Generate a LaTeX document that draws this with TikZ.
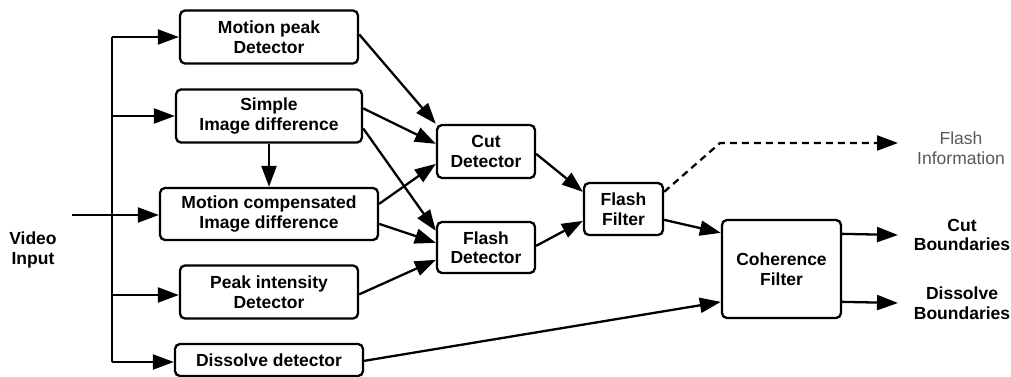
\documentclass[tikz,border=0pt]{standalone}
\usepackage{fontspec}
\setmainfont{Liberation Sans}
\usetikzlibrary{arrows.meta,calc}
\tikzset{
  blk/.style={draw, line width=2.3pt, rounded corners=5pt, align=center, inner sep=0pt,
    font=\bfseries\fontsize{17.5}{19.5}\selectfont},
  lbl/.style={align=center, inner sep=0pt, font=\bfseries\fontsize{17.5}{19.5}\selectfont},
  lblg/.style={align=center, inner sep=0pt, text=black!65, font=\fontsize{17.5}{19.5}\selectfont},
  conn/.style={line width=2.3pt, -{Triangle[length=21pt,width=15pt]}},
  wire/.style={line width=2.3pt},
  dconn/.style={line width=2.3pt, dash pattern=on 7pt off 5pt, -{Triangle[length=21pt,width=15pt]}}
}
\begin{document}
\begin{tikzpicture}[x=1pt,y=-1pt]
\useasboundingbox (0,0) rectangle (1011,377);
% blocks
\node[blk, minimum width=178pt, minimum height=53pt] (mpd) at (269,37) {Motion peak\\Detector};
\node[blk, minimum width=186pt, minimum height=53pt] (sid) at (269,116) {Simple\\Image difference};
\node[blk, minimum width=218pt, minimum height=52pt] (mci) at (269,214) {Motion compensated\\Image difference};
\node[blk, minimum width=178pt, minimum height=53pt] (pid) at (269,292) {Peak intensity\\Detector};
\node[blk, minimum width=188pt, minimum height=32pt] (dd) at (269,360) {Dissolve detector};
\node[blk, minimum width=98pt, minimum height=53pt] (cut) at (486,151.5) {Cut\\Detector};
\node[blk, minimum width=98pt, minimum height=51pt] (fd) at (486,247.5) {Flash\\Detector};
\node[blk, minimum width=79pt, minimum height=52pt] (ff) at (623.5,209) {Flash\\Filter};
\node[blk, minimum width=119pt, minimum height=98pt] (cf) at (781.5,269) {Coherence\\Filter};
% labels
\node[lbl] (vi) at (33,250) {Video\\Input};
\node[lblg] (fi) at (961,148) {Flash\\Information};
\node[lbl] (cb) at (962,235) {Cut\\Boundaries};
\node[lbl] (db) at (962,303) {Dissolve\\Boundaries};
% input bus
\coordinate (t1) at (112,37);
\coordinate (t5) at (112,362);
\coordinate (vin) at (72,215);
\draw[wire] (t1) -- (t5);
\draw[conn] (t1) -- (mpd.west);
\draw[conn] (t1 |- sid.west) -- (sid.west);
\draw[conn] (vin) -- (mci.west |- vin);
\draw[conn] (t1 |- 0,295) -- (pid.west |- 0,295);
\draw[conn] (t5) -- (dd.west |- t5);
% internal
\draw[conn] (sid.south) -- (mci.north);
\draw[conn] ($(mpd.north east)+(0,25)$) -- (cut.north west);
\draw[conn] ($(sid.north east)+(0,20)$) -- ($(cut.north west)+(0,20)$);
\draw[conn] ($(sid.north east)+(0,40)$) -- ($(fd.north west)+(0,10)$);
\draw[conn] ($(mci.north east)+(0,17)$) -- ($(cut.north west)+(0,40)$);
\draw[conn] ($(mci.north east)+(0,37)$) -- ($(fd.north west)+(0,22)$);
\draw[conn] ($(pid.north east)+(0,30)$) -- ($(fd.north west)+(0,39)$);
\draw[conn] ($(cut.north east)+(0,30)$) -- ($(ff.north west)+(0,10)$);
\draw[conn] ($(fd.north east)+(0,25)$) -- ($(ff.north west)+(0,39)$);
\draw[conn] ($(ff.north east)+(0,38)$) -- ($(cf.north west)+(0,14)$);
\draw[conn] ($(dd.north east)+(0,18)$) -- ($(cf.north west)+(0,83)$);
\coordinate (dk) at (720,143);
\coordinate (fe) at (898,143);
\draw[dconn] ($(ff.north east)+(0,10)$) -- (dk) -- (fe);
\coordinate (ce) at (898,235);
\coordinate (de) at (898,303);
\draw[conn] ($(cf.north east)+(0,15)$) -- (ce);
\draw[conn] ($(cf.north east)+(0,83)$) -- (de);
\end{tikzpicture}
\end{document}
